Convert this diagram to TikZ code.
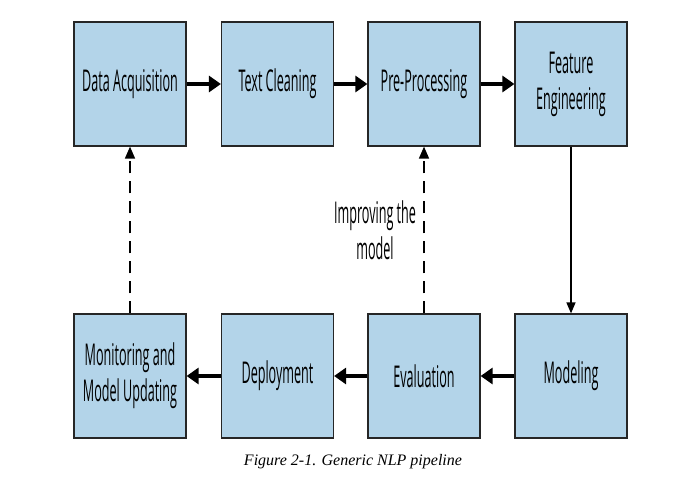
\documentclass[tikz,border=0pt]{standalone}
\usepackage{fontspec}
\setmainfont{Liberation Serif}
\setsansfont[FakeStretch=0.42]{Open Sans}
\usepackage{tikz}
\usetikzlibrary{arrows.meta}
\definecolor[named]{StageBlue}{RGB}{179,212,233}
\tikzset{
  stage/.style={draw=black!85, line width=1.2pt, fill=StageBlue,
    minimum width=112pt, minimum height=124pt, inner sep=0pt, align=center,
    font=\sffamily\fontsize{30}{36}\selectfont},
  flow/.style={line width=4pt, -{Triangle[length=12pt,width=16pt]}},
  loop/.style={line width=1.5pt, dash pattern=on 12pt off 8pt, -{Triangle[length=12pt,width=10pt]}}
}

\begin{document}
\begin{tikzpicture}[x=1pt,y=-1pt]
  \useasboundingbox (0,0) rectangle (679,484);
  % top row
  \node[stage] (acq) at (130,84) {Data Acquisition};
  \node[stage] (clean) at (277.5,84) {Text Cleaning};
  \node[stage] (prep) at (424,84) {Pre-Processing};
  \node[stage] (feat) at (571,84) {Feature\\Engineering};
  % bottom row
  \node[stage] (mon) at (130,376) {Monitoring and\\Model Updating};
  \node[stage] (dep) at (277.5,376) {Deployment};
  \node[stage] (eval) at (424,376) {Evaluation};
  \node[stage] (model) at (571,376) {Modeling};
  \draw[flow] (acq) -- (clean);
  \draw[flow] (clean) -- (prep);
  \draw[flow] (prep) -- (feat);
  \draw[line width=1.5pt, -{Triangle[length=11pt,width=9pt]}] (feat) -- (model);
  \draw[flow] (model) -- (eval);
  \draw[flow] (eval) -- (dep);
  \draw[flow] (dep) -- (mon);
  \draw[loop] (mon) -- (acq);
  \draw[loop] (eval) -- (prep)
    node[midway, left=4pt, align=center, font=\sffamily\fontsize{30}{36}\selectfont] (improve) {Improving the\\model};
  \node[font=\itshape\fontsize{16}{19}\selectfont] (caption) at (353,462) {Figure 2-1. Generic NLP pipeline};
\end{tikzpicture}
\end{document}
